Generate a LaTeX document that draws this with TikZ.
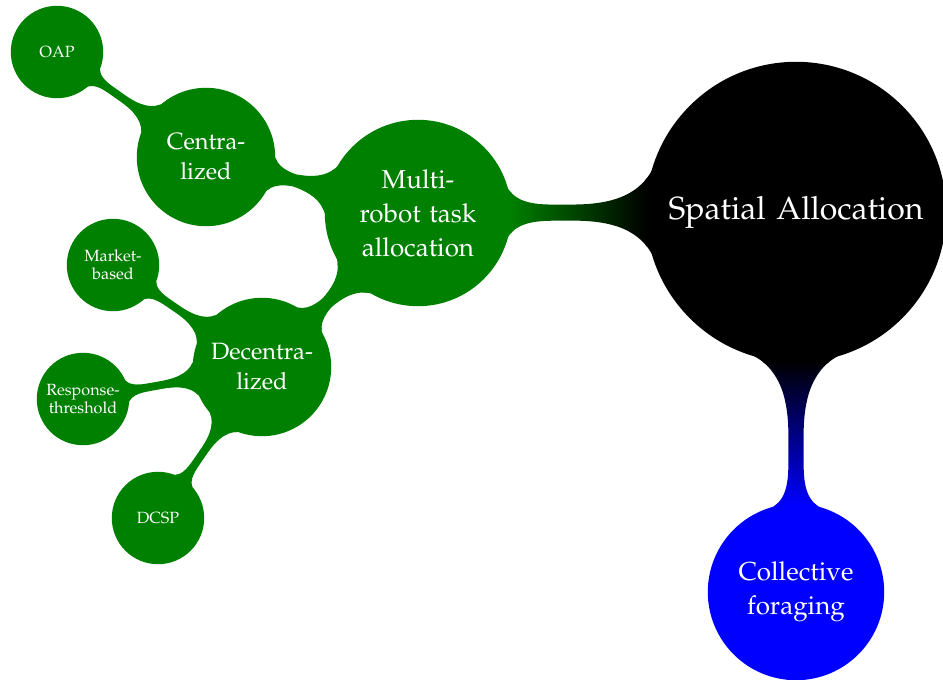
\documentclass[tikz,border=0pt]{standalone}
\usepackage[T1]{fontenc}
\usepackage{mathpazo}
\usetikzlibrary{mindmap}
\colorlet{mapgreen}{green!50!black}
\begin{document}
\begin{tikzpicture}[mindmap, x=0.5pt, y=-0.5pt,
  basic/.style={concept, text=white, align=center, inner sep=0pt},
  rootc/.style={basic, concept color=black, minimum size=149pt, text width=140pt,
    font=\fontsize{16}{19}\selectfont},
  firstc/.style={basic, minimum size=#1, text width=70pt,
    font=\fontsize{13}{17}\selectfont},
  secondc/.style={basic, concept color=mapgreen, minimum size=68pt, text width=55pt,
    font=\fontsize{11.8}{15}\selectfont},
  thirdc/.style={basic, concept color=mapgreen, minimum size=45pt, text width=40pt,
    font=\fontsize{8.1}{9}\selectfont},
  greenbar/.style={circle connection bar switch color=from (mapgreen) to (mapgreen)}]
\useasboundingbox (0,0) rectangle (943,680);
% concepts
\node[rootc] (root) at (796,212) {Spatial Allocation};
\node[firstc=92pt, concept color=mapgreen] (mrta) at (418,213) {Multi-\\robot task\\allocation};
\node[firstc=87pt, concept color=blue] (forage) at (796,592) {Collective\\foraging};
\node[secondc] (central) at (206,157) {Centra-\\lized};
\node[secondc] (decentral) at (262,367) {Decentra-\\lized};
\node[thirdc] (oap) at (57,52) {OAP};
\node[thirdc] (market) at (113,265) {Market-\\based};
\node[thirdc] (response) at (83,399) {Response-\\threshold};
\node[thirdc] (dcsp) at (158,518) {DCSP};
% connection bars
\path (mrta) to[circle connection bar switch color=from (mapgreen) to (black)] (root);
\path (root) to[circle connection bar switch color=from (black) to (blue)] (forage);
\path (mrta) to[greenbar] (central);
\path (mrta) to[greenbar] (decentral);
\path (central) to[greenbar] (oap);
\path (decentral) to[greenbar] (market);
\path (decentral) to[greenbar] (response);
\path (decentral) to[greenbar] (dcsp);
\end{tikzpicture}
\end{document}
